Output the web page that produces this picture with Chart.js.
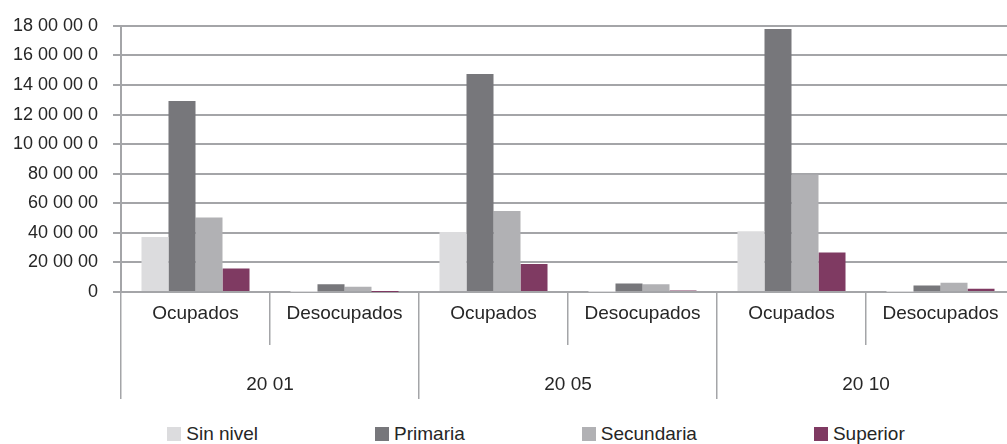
<!DOCTYPE html>
<html>
<head>
<meta charset="utf-8">
<script src="https://cdn.jsdelivr.net/npm/chart.js@4"></script>
<style>
  html, body { margin: 0; padding: 0; background: #fff; overflow: hidden; }
  #wrap { position: relative; width: 1072px; height: 444px; }
  #box { position: absolute; left: 0; top: 0; width: 1072px; height: 410px; }
  #legend {
    position: absolute; left: 0; top: 424px; width: 1072px;
    display: flex; justify-content: center; gap: 117px;
    font: 19px "Liberation Sans", Arial, sans-serif; color: #262626; line-height: 20px;
  }
  .item { display: flex; align-items: center; white-space: nowrap; }
  .sw { width: 14px; height: 14px; margin-right: 5px; }
</style>
</head>
<body>
<div id="wrap">
  <div id="box"><canvas id="chart"></canvas></div>
  <div id="legend"></div>
</div>
<script>
// categorias y años (texto tal como aparece en el original)
const categories = ['Ocupados', 'Desocupados', 'Ocupados', 'Desocupados', 'Ocupados', 'Desocupados'];
const years = ['20 01', '20 05', '20 10'];

// series por nivel educativo
const sinNivel   = [372000, 800, 406000, 800, 410000, 800];
const primaria   = [1292000, 53000, 1474000, 57000, 1778000, 44000];
const secundaria = [503000, 35000, 547000, 53000, 792000, 62000];
const superior   = [159000, 800, 190000, 10000, 267000, 22000];

// etiquetas del eje Y
const yTickLabels = ['0', '20 00 00', '40 00 00', '60 00 00', '80 00 00',
  '10 00 00 0', '12 00 00 0', '14 00 00 0', '16 00 00 0', '18 00 00 0'];

const series = [
  { label: 'Sin nivel', data: sinNivel, color: '#dcdcde' },
  { label: 'Primaria', data: primaria, color: '#77777b' },
  { label: 'Secundaria', data: secundaria, color: '#b1b1b4' },
  { label: 'Superior', data: superior, color: '#7f3a62' }
];

const FONT = '"Liberation Sans", Arial, sans-serif';
const TEXT = '#262626';
const GRID = '#a4a5a8';

// leyenda en HTML
const legend = document.getElementById('legend');
series.forEach(s => {
  const item = document.createElement('div');
  item.className = 'item';
  item.innerHTML = `<span class="sw" style="background:${s.color}"></span>${s.label}`;
  legend.appendChild(item);
});

new Chart(document.getElementById('chart'), {
  type: 'bar',
  data: {
    labels: categories,
    datasets: series.map(s => ({
      label: s.label,
      data: s.data,
      backgroundColor: s.color,
      borderWidth: 0,
      categoryPercentage: 0.725,
      barPercentage: 1.0
    }))
  },
  options: {
    responsive: true,
    maintainAspectRatio: false,
    animation: false,
    layout: { padding: { top: 20, right: 57, bottom: 11, left: 0 } },
    plugins: {
      legend: { display: false },
      tooltip: { enabled: false }
    },
    scales: {
      y: {
        min: 0,
        max: 1800000,
        ticks: {
          stepSize: 200000,
          autoSkip: false,
          padding: 15,
          color: TEXT,
          font: { family: FONT, size: 18 },
          callback: (v) => yTickLabels[Math.round(v / 200000)]
        },
        grid: { color: GRID, lineWidth: 2, tickLength: 8 },
        border: { color: GRID, width: 2 },
        afterFit: (s) => { s.width = 121; }
      },
      x: {
        offset: true,
        ticks: {
          autoSkip: false,
          maxRotation: 0,
          padding: -43,
          color: TEXT,
          font: { family: FONT, size: 19 }
        },
        grid: { offset: true, drawOnChartArea: false, tickLength: 53, color: GRID, lineWidth: 1.5 },
        border: { color: GRID, width: 2 },
        afterFit: (s) => { s.height = 53; }
      },
      x2: {
        type: 'category',
        position: 'bottom',
        labels: years,
        offset: true,
        weight: 1,
        ticks: {
          autoSkip: false,
          maxRotation: 0,
          padding: -26,
          color: TEXT,
          font: { family: FONT, size: 19 }
        },
        grid: { offset: true, drawOnChartArea: false, tickLength: 54, color: GRID, lineWidth: 1.5 },
        border: { display: false },
        afterFit: (s) => { s.height = 54; }
      }
    }
  }
});
</script>
</body>
</html>
